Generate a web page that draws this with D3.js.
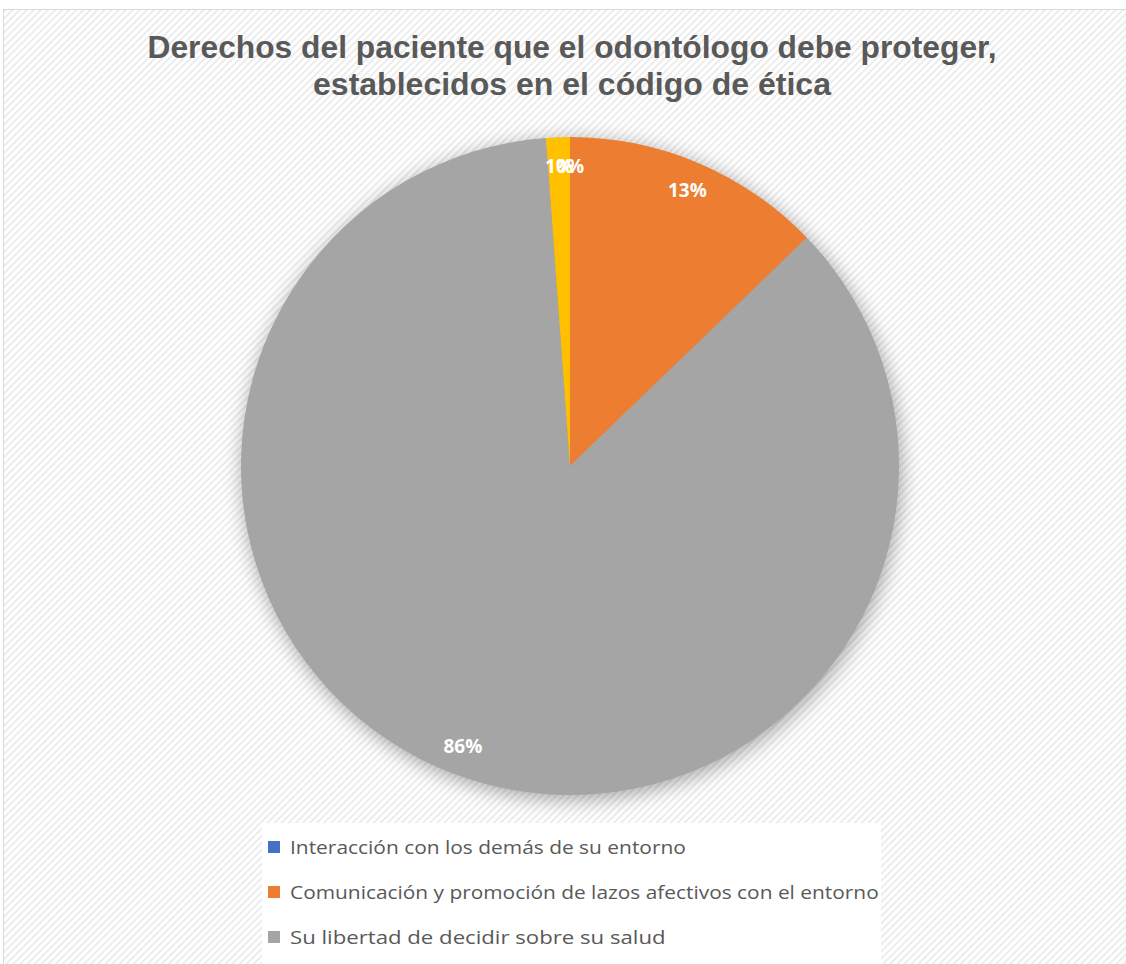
<!DOCTYPE html>
<html>
<head>
<meta charset="utf-8">
<style>
  body { margin: 0; background: #fff; }
</style>
</head>
<body>
<script src="https://cdnjs.cloudflare.com/ajax/libs/d3/7.8.5/d3.min.js"></script>
<svg id="chart" width="1126" height="964"></svg>
<script>
  // counts (percent labels are rounded)
  const categories = [
    'Interacción con los demás de su entorno',
    'Comunicación y promoción de lazos afectivos con el entorno',
    'Su libertad de decidir sobre su salud',
    'Otro'
  ];
  const values = [0, 11, 74, 1];
  const colors = ['#4472C4', '#ED7D31', '#A5A5A5', '#FFC000'];
  const titleLines = ['Derechos del paciente que el odontólogo debe proteger,', 'establecidos en el código de ética'];
  const titleWidths = [849, 518];
  const legendShown = 3;

  const svg = d3.select('#chart');
  const defs = svg.append('defs');

  const pat = defs.append('pattern')
    .attr('id', 'stripes')
    .attr('width', 5).attr('height', 5)
    .attr('patternUnits', 'userSpaceOnUse')
    .attr('patternTransform', 'rotate(45)');
  pat.append('rect').attr('width', 5).attr('height', 5).attr('fill', '#fff');
  pat.append('rect').attr('width', 2).attr('height', 5).attr('fill', '#ececec');

  const blur = defs.append('filter').attr('id', 'shadow')
    .attr('x', '-20%').attr('y', '-20%').attr('width', '140%').attr('height', '140%');
  blur.append('feGaussianBlur').attr('stdDeviation', 10);

  // chart area
  svg.append('rect')
    .attr('x', 3.5).attr('y', 9.5)
    .attr('width', 1130).attr('height', 960)
    .attr('fill', 'url(#stripes)')
    .attr('stroke', '#d9d9d9');

  svg.append('g')
    .selectAll('text')
    .data(titleLines)
    .join('text')
    .attr('x', 572)
    .attr('y', (d, i) => 58 + i * 37)
    .attr('text-anchor', 'middle')
    .attr('font-family', 'Liberation Sans, Arial, sans-serif')
    .attr('font-weight', 'bold')
    .attr('font-size', 31)
    .attr('fill', '#595959')
    .attr('textLength', (d, i) => titleWidths[i])
    .attr('lengthAdjust', 'spacingAndGlyphs')
    .text(d => d);

  const cx = 570, cy = 466, R = 329;
  const g = svg.append('g').attr('transform', `translate(${cx},${cy})`);

  g.append('circle')
    .attr('cx', 2).attr('cy', 4)
    .attr('r', R)
    .attr('fill', '#000')
    .attr('opacity', 0.35)
    .attr('filter', 'url(#shadow)');

  const pie = d3.pie().sort(null).value(d => d);
  const arcs = pie(values);
  const arc = d3.arc().innerRadius(0).outerRadius(R);
  const labelArc = d3.arc().innerRadius(300).outerRadius(300);
  const total = d3.sum(values);

  g.selectAll('path')
    .data(arcs)
    .join('path')
    .attr('d', arc)
    .attr('fill', (d, i) => colors[i]);

  g.selectAll('text.lbl')
    .data(arcs)
    .join('text')
    .attr('class', 'lbl')
    .attr('transform', d => `translate(${labelArc.centroid(d)})`)
    .attr('text-anchor', 'middle')
    .attr('dy', '0.35em')
    .attr('font-family', 'Open Sans, sans-serif')
    .attr('font-weight', 'bold')
    .attr('font-size', 19)
    .attr('fill', '#fff')
    .text(d => Math.round(d.data / total * 100) + '%');

  // legend
  const lg = svg.append('g');
  lg.append('rect')
    .attr('x', 262).attr('y', 823)
    .attr('width', 619).attr('height', 141)
    .attr('fill', '#fff');

  const items = lg.selectAll('g.item')
    .data(categories.slice(0, legendShown))
    .join('g')
    .attr('class', 'item')
    .attr('transform', (d, i) => `translate(268,${847 + i * 45})`);

  items.append('rect')
    .attr('x', 0).attr('y', -6)
    .attr('width', 12).attr('height', 12)
    .attr('fill', (d, i) => colors[i]);

  items.append('text')
    .attr('x', 22)
    .attr('dy', '0.35em')
    .attr('font-family', 'Open Sans, sans-serif')
    .attr('font-size', 19)
    .attr('fill', '#595959')
    .attr('textLength', d => d.length * 10.15)
    .attr('lengthAdjust', 'spacingAndGlyphs')
    .text(d => d);
</script>
</body>
</html>
